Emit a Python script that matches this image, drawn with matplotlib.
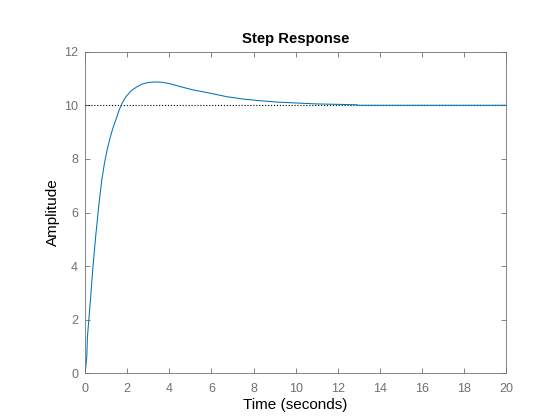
import matplotlib
matplotlib.use("Agg")
import matplotlib.pyplot as plt

plt.rcParams['font.family'] = ['Liberation Sans', 'DejaVu Sans']

# step response
time = [0, 0.08, 0.11, 0.24, 0.36, 0.5, 0.66, 0.79, 0.92, 1.05, 1.19, 1.32,
        1.5, 1.62, 1.74, 1.86, 1.98, 2.2, 2.46, 2.7, 3.0, 3.3, 3.63, 4.0,
        4.5, 5.15, 5.94, 6.73, 7.52, 8.31, 9.1, 9.9, 11.0, 12.9, 13.0, 20.0]
amplitude = [0, 0.62, 1.37, 2.61, 3.85, 5.1, 6.34, 7.2, 7.85, 8.35, 8.8, 9.15,
             9.55, 9.83, 10.05, 10.22, 10.36, 10.55, 10.69, 10.79, 10.85, 10.87, 10.86, 10.81,
             10.70, 10.57, 10.45, 10.32, 10.23, 10.17, 10.12, 10.09, 10.05, 10.02, 10.0, 10.0]
final_value = 10
xticks = [0, 2, 4, 6, 8, 10, 12, 14, 16, 18, 20]
yticks = [0, 2, 4, 6, 8, 10, 12]

axcol = '#707070'

fig = plt.figure(figsize=(5.6, 4.2), dpi=100)
ax = fig.add_axes([0.152, 0.111, 0.752, 0.766])

ax.plot([0, 20], [final_value, final_value], color='black', linestyle=':', linewidth=0.8)
ax.plot(time, amplitude, color='#0072BD', linewidth=0.75)

ax.set_xlim(0, 20)
ax.set_ylim(0, 12)
ax.set_xticks(xticks)
ax.set_yticks(yticks)
ax.tick_params(direction='in', top=True, right=True, length=3.5, width=0.6,
               colors=axcol, labelsize=9, pad=5)
ax.tick_params(axis='x', pad=7)
for s in ax.spines.values():
    s.set_color(axcol)
    s.set_linewidth(0.6)

ax.set_title("Step Response", fontsize=10.7, fontweight='bold', pad=6)
ax.set_xlabel("Time (seconds)", fontsize=11, labelpad=2)
ax.set_ylabel("Amplitude", fontsize=11, labelpad=3)

fig.savefig("out.png", dpi=100)
